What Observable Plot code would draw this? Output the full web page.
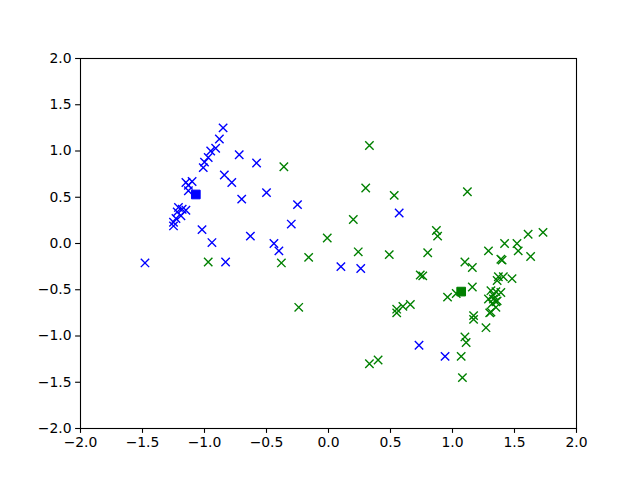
<!DOCTYPE html>
<html>
<head>
<meta charset="utf-8">
<script src="https://cdn.jsdelivr.net/npm/d3@7"></script>
<script src="https://cdn.jsdelivr.net/npm/@observablehq/plot@0.6"></script>
<style>
  html, body { margin: 0; padding: 0; background: #fff; }
</style>
</head>
<body>
<div id="chart"></div>
<script>
const blueX = [-0.85,-0.88,-0.91,-0.95,-0.97,-1.00,-1.01,-0.72,-0.58,-0.84,-0.78,-1.15,-1.10,-1.13,-1.13,-0.50,-0.70,-0.25,-1.21,-1.18,-1.15,-1.22,-1.19,-1.23,-1.25,-1.25,-0.30,-1.02,-0.63,-0.94,-0.44,-0.40,-1.48,-0.83,0.10,0.26,0.57,0.73,0.94];
const blueY = [1.25,1.13,1.03,1.00,0.93,0.88,0.82,0.96,0.87,0.74,0.66,0.66,0.67,0.63,0.57,0.55,0.48,0.42,0.39,0.37,0.36,0.34,0.30,0.27,0.23,0.19,0.21,0.15,0.08,0.01,0.00,-0.08,-0.21,-0.20,-0.25,-0.27,0.33,-1.10,-1.22];

const greenX = [0.33,-0.36,0.30,0.53,1.12,0.20,-0.01,0.87,0.88,0.24,0.49,0.80,-0.16,-0.38,1.10,0.74,0.76,-0.24,0.96,1.03,0.66,0.60,0.55,0.55,1.10,1.11,1.07,1.08,0.33,0.40,-0.97,1.61,1.73,1.42,1.52,1.53,1.29,1.63,1.16,1.39,1.40,1.37,1.41,1.48,1.36,1.16,1.31,1.35,1.39,1.33,1.29,1.33,1.36,1.32,1.35,1.30,1.17,1.17,1.27,1.35,1.31];
const greenY = [1.06,0.83,0.60,0.52,0.56,0.26,0.06,0.14,0.08,-0.09,-0.12,-0.10,-0.15,-0.21,-0.20,-0.34,-0.35,-0.69,-0.58,-0.54,-0.66,-0.68,-0.71,-0.75,-1.01,-1.07,-1.22,-1.45,-1.30,-1.26,-0.20,0.10,0.12,0.00,0.00,-0.08,-0.08,-0.14,-0.26,-0.17,-0.18,-0.36,-0.36,-0.38,-0.40,-0.47,-0.51,-0.52,-0.53,-0.56,-0.60,-0.60,-0.62,-0.65,-0.63,-0.75,-0.78,-0.82,-0.91,-0.69,-0.74];

const centerX = [-1.07, 1.07];
const centerY = [0.53, -0.52];
const centerColor = ["blue", "green"];

const ticks = [-2.0, -1.5, -1.0, -0.5, 0.0, 0.5, 1.0, 1.5, 2.0];

const blue = blueX.map((x, i) => ({x, y: blueY[i]}));
const green = greenX.map((x, i) => ({x, y: greenY[i]}));
const centers = centerX.map((x, i) => ({x, y: centerY[i], c: centerColor[i]}));

const fmt = d3.format(".1f");

const chart = Plot.plot({
  width: 640,
  height: 480,
  marginLeft: 80,
  marginRight: 64,
  marginTop: 58,
  marginBottom: 52,
  style: {background: "#fff", fontFamily: "DejaVu Sans", fontSize: "13.9px", color: "#000"},
  x: {domain: [-2, 2], ticks: ticks, tickFormat: fmt, label: null},
  y: {domain: [-2, 2], ticks: ticks, tickFormat: fmt, label: null},
  marks: [
    Plot.axisX({ticks: ticks, tickFormat: fmt, tickSize: 4.9, tickPadding: 4, strokeWidth: 1.1, fontSize: 13.9, label: null}),
    Plot.axisY({ticks: ticks, tickFormat: fmt, tickSize: 4.9, tickPadding: 4, strokeWidth: 1.1, fontSize: 13.9, label: null}),
    Plot.dot(blue, {x: "x", y: "y", symbol: "times", r: 3.9, stroke: "blue", strokeWidth: 1.4}),
    Plot.dot(green, {x: "x", y: "y", symbol: "times", r: 3.9, stroke: "green", strokeWidth: 1.4}),
    Plot.dot(centers, {x: "x", y: "y", symbol: "square", r: 4.9, fill: d => d.c, stroke: d => d.c, strokeWidth: 1}),
    Plot.frame({stroke: "#000", strokeWidth: 1.1})
  ]
});
document.getElementById("chart").appendChild(chart);
</script>
</body>
</html>
